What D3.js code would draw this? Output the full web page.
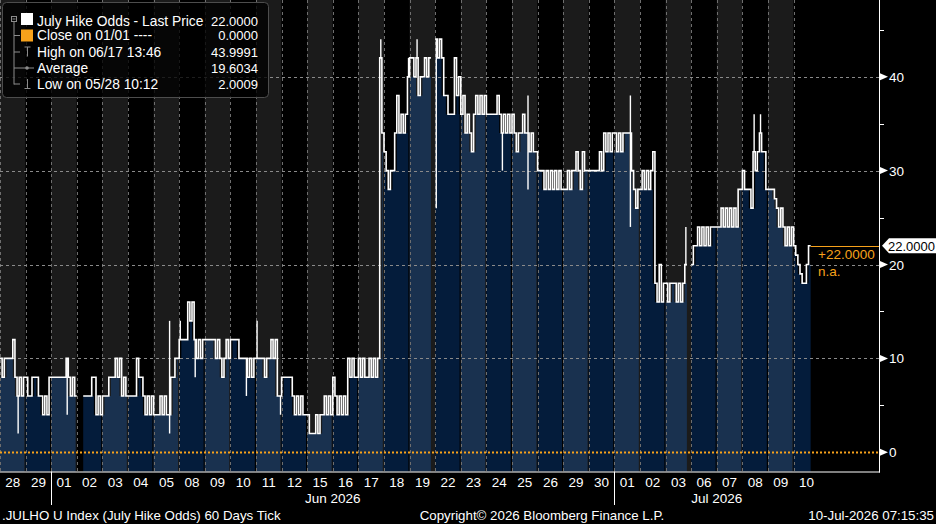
<!DOCTYPE html>
<html>
<head>
<meta charset="utf-8">
<script src="https://cdn.jsdelivr.net/npm/d3@7"></script>
<style>
  html, body { margin: 0; padding: 0; background: #000; }
  svg { display: block; font-family: 'Liberation Sans', Arial, sans-serif; }
</style>
</head>
<body>
<svg id="chart" width="936" height="524"></svg>
<script>
// one label per trading day on the bottom axis
const dayLabels = ['28', '29', '01', '02', '03', '04', '05', '08', '09', '10', '11', '12', '15', '16', '17', '18',
                   '19', '22', '23', '24', '25', '26', '29', '30', '01', '02', '03', '06', '07', '08', '09', '10'];
const monthLabels = ['Jun 2026', 'Jul 2026'];
const monthStarts = [2, 24];
const monthEnds = [24, 32];

// intraday ticks, 12 per day (null = no trading)
const dayTicks = [
  [10, 8, 10, 10, 10, 10, 12, 8, 6, 8, 6, 8],          // 28 May
  [8, 6, 6, 8, 8, 8, 6, 6, 4, 6, 4, 8],                // 29 May
  [8, 8, 8, 8, 8, 8, 8, 10, 8, 6, 8, 6],               // 01 Jun
  [null, null, null, 6, 6, 6, 6, 8, 8, 4, 6, 4],       // 02 Jun
  [6, 6, 6, 8, 8, 8, 10, 8, 10, 6, 8, 6],              // 03 Jun
  [6, 6, 6, 6, 10, 8, 8, 6, 4, 6, 4, 6],               // 04 Jun
  [4, 4, 4, 6, 4, 6, 4, 4, 8, 8, 10, 10],              // 05 Jun
  [12, 12, 12, 12, 16, 14, 16, 12, 10, 12, 10, 12],    // 08 Jun
  [12, 12, 12, 12, 12, 10, 12, 10, 8, 10, 12, 10],     // 09 Jun
  [12, 12, 12, 12, 10, 10, 10, 10, 8, 10, 8, 10],      // 10 Jun
  [10, 10, 10, 10, 8, 10, 10, 12, 10, 12, 6, 6],       // 11 Jun
  [8, 8, 8, 8, 8, 6, 4, 6, 4, 6, 4, 4],                // 12 Jun
  [4, 2, 2, 2, 4, 2, 4, 4, 6, 4, 6, 4],                // 15 Jun
  [8, 6, 4, 6, 4, 6, 4, 10, 8, 10, 8, 8],              // 16 Jun
  [10, 8, 10, 8, 8, 10, 8, 10, 8, 10, 42, 34],         // 17 Jun
  [32, 30, 28, 30, 30, 34, 38, 34, 36, 34, 36, 40],    // 18 Jun
  [42, 42, 40, 42, 38, 40, 40, 42, 40, 42, null, null],// 19 Jun
  [44, 42, 44, 42, 38, 38, 36, 36, 36, 42, 38, 40],    // 22 Jun
  [36, 38, 34, 36, 34, 32, 36, 38, 36, 38, 36, 38],    // 23 Jun
  [36, 36, 36, 36, 36, 38, 36, 34, 36, 34, 36, 34],    // 24 Jun
  [36, 34, 32, 34, 34, 36, 34, 34, 32, 34, 32, 32],    // 25 Jun
  [30, 30, 30, 28, 30, 28, 30, 28, 30, 28, 30, 28],    // 26 Jun
  [28, 28, 30, 28, 30, 30, 32, 30, 28, 32, 30, 30],    // 29 Jun
  [30, 30, 30, 30, 30, 32, 30, 34, 32, 34, 32, 34],    // 30 Jun
  [34, 32, 34, 32, 34, 34, 34, 34, 30, 28, 26, 28],    // 01 Jul
  [28, 30, 28, 30, 28, 30, 32, 18, 16, 20, 16, 18],    // 02 Jul
  [18, 16, 18, 18, 18, 16, 18, 16, 18, 20, null, null],// 03 Jul
  [20, 22, 22, 24, 22, 24, 22, 24, 22, 24, 24, 24],    // 06 Jul
  [24, 24, 26, 24, 26, 24, 26, 24, 26, 24, 28, 28],    // 07 Jul
  [30, 28, 28, 28, 26, 32, 30, 32, 34, 32, 32, 28],    // 08 Jul
  [28, 28, 28, 27, 26, 24, 26, 24, 22, 24, 22, 24],    // 09 Jul
  [22, 21, 20, 19, 18, 18, 20, 22, null, null, null, null] // 10 Jul
];

// single-tick spikes: [day, tick, value]
const spikes = [
  [0, 8, 2], [2, 7, 4], [6, 7, 2], [6, 7, 14], [7, 0, 14], [7, 7, 8], [9, 7, 6],
  [10, 0, 14], [10, 11, 4], [14, 10, 44], [15, 11, 42], [16, 3, 44], [17, 0, 26],
  [19, 7, 30], [20, 7, 38], [20, 7, 28], [24, 7, 38], [24, 7, 24], [26, 9, 24],
  [29, 5, 36], [29, 8, 36]
];

const yTicks = [0, 10, 20, 30, 40];
const yMinorTicks = [5, 15, 25, 35, 45];
const lastPrice = 22;
const closeValue = 0;

const legendLabels = ['July Hike Odds - Last Price', 'Close on 01/01 ----', 'High on 06/17 13:46', 'Average', 'Low on 05/28 10:12'];
const legendValues = ['22.0000', '0.0000', '43.9991', '19.6034', '2.0009'];

const perDay = 12;
const step = 1 / perDay;
const plotRight = 880;
const plotBottom = 471.5;
const orange = '#f7a21b';

const svg = d3.select('#chart');

const x = d3.scaleLinear()
            .domain([0, dayLabels.length])
            .range([0, 819.2]);
const y = d3.scaleLinear()
            .domain([0, 40])
            .range([452.3, 76.7]);

// flatten ticks
const samples = [];
dayTicks.forEach((ticks, d) => {
  ticks.forEach((v, k) => samples.push({ t: d + k * step, v: v, d: d }));
});

// area level: lowest of a tick and its neighbours, so flickers stay unfilled
samples.forEach((s, i) => {
  if (s.v === null) { s.f = null; return; }
  const near = [samples[i - 1], s, samples[i + 1]]
    .filter(n => n && n.v !== null)
    .map(n => n.v);
  s.f = d3.min(near);
});

// background day bands
svg.append('g')
  .selectAll('rect')
  .data(dayLabels)
  .join('rect')
    .attr('x', (d, i) => x(i))
    .attr('y', 0)
    .attr('width', (d, i) => x(i + 1) - x(i))
    .attr('height', plotBottom)
    .attr('fill', (d, i) => i % 2 === 0 ? '#1b1b1b' : '#000');

// filled area, one block per day
const area = d3.area()
               .defined(p => p.v !== null)
               .x(p => x(p.t))
               .y0(plotBottom)
               .y1(p => y(p.v))
               .curve(d3.curveStepAfter);

const fillGroup = svg.append('g');
dayTicks.forEach((ticks, d) => {
  const own = samples.filter(s => s.d === d);
  const pts = [];
  own.forEach((s, k) => {
    pts.push({ t: s.t, v: s.f });
    const nx = own[k + 1];
    if (s.f !== null && (!nx || nx.f === null)) {
      const end = nx ? s.t + step : d + 1 - 1.2 / 25.6;
      pts.push({ t: end, v: s.f });
    }
  });
  fillGroup.append('path')
    .attr('d', area(pts))
    .attr('fill', d % 2 === 0 ? '#19314f' : '#041c3b');
});

// vertical day separators
svg.append('g')
  .selectAll('line')
  .data(dayLabels)
  .join('line')
    .attr('x1', (d, i) => Math.round(x(i)) + 0.5)
    .attr('x2', (d, i) => Math.round(x(i)) + 0.5)
    .attr('y1', 0)
    .attr('y2', plotBottom)
    .attr('stroke', '#6e6e6e')
    .attr('stroke-dasharray', '3,3');

// horizontal grid
svg.append('g')
  .selectAll('line')
  .data(yTicks.filter(v => v !== 0))
  .join('line')
    .attr('x1', 0)
    .attr('x2', plotRight)
    .attr('y1', v => Math.round(y(v)) + 0.5)
    .attr('y2', v => Math.round(y(v)) + 0.5)
    .attr('stroke', '#8a8a8a')
    .attr('stroke-dasharray', '3,3');

// close line at zero
svg.append('line')
   .attr('x1', 0)
   .attr('x2', plotRight)
   .attr('y1', Math.round(y(closeValue)) + 0.5)
   .attr('y2', Math.round(y(closeValue)) + 0.5)
   .attr('stroke', orange)
   .attr('stroke-width', 2)
   .attr('stroke-dasharray', '2,2');

// price line
const linePts = [];
samples.forEach((s, i) => {
  linePts.push({ t: s.t, v: s.v });
  const nx = samples[i + 1];
  if (s.v !== null && (!nx || nx.v === null)) linePts.push({ t: s.t + step, v: s.v });
});

const line = d3.line()
               .defined(p => p.v !== null)
               .x(p => x(p.t))
               .y(p => y(p.v))
               .curve(d3.curveStepAfter);

svg.append('path')
   .datum(linePts)
   .attr('d', line)
   .attr('fill', 'none')
   .attr('stroke', '#fff')
   .attr('stroke-width', 1.6);

svg.append('g')
  .selectAll('line')
  .data(spikes)
  .join('line')
    .attr('x1', s => x(s[0] + (s[1] + 0.5) * step))
    .attr('x2', s => x(s[0] + (s[1] + 0.5) * step))
    .attr('y1', s => y(dayTicks[s[0]][s[1]]))
    .attr('y2', s => y(s[2]))
    .attr('stroke', '#fff')
    .attr('stroke-width', 1.4);

// last price marker
const lastT = d3.max(linePts.filter(p => p.v !== null), p => p.t);
svg.append('line')
   .attr('x1', x(lastT))
   .attr('x2', plotRight)
   .attr('y1', Math.round(y(lastPrice)) + 0.5)
   .attr('y2', Math.round(y(lastPrice)) + 0.5)
   .attr('stroke', orange)
   .attr('stroke-width', 1);

svg.append('text')
   .attr('x', 818)
   .attr('y', y(lastPrice) + 13)
   .attr('font-size', '13.5px')
   .attr('fill', orange)
   .text('+' + legendValues[0]);
svg.append('text')
   .attr('x', 818)
   .attr('y', y(lastPrice) + 30)
   .attr('font-size', '13.5px')
   .attr('fill', orange)
   .text('n.a.');

// right axis
const yAxis = svg.append('g');
yAxis.append('line')
     .attr('x1', plotRight - 0.5)
     .attr('x2', plotRight - 0.5)
     .attr('y1', 0)
     .attr('y2', plotBottom + 1)
     .attr('stroke', '#fff');

yAxis.selectAll('.minor')
  .data(yMinorTicks)
  .join('line')
    .attr('class', 'minor')
    .attr('x1', plotRight)
    .attr('x2', plotRight + 4)
    .attr('y1', v => Math.round(y(v)) + 0.5)
    .attr('y2', v => Math.round(y(v)) + 0.5)
    .attr('stroke', '#fff');

yAxis.selectAll('.pointer')
  .data(yTicks)
  .join('path')
    .attr('class', 'pointer')
    .attr('d', v => `M${plotRight},${y(v) - 3.5}L${plotRight + 8},${y(v)}L${plotRight},${y(v) + 3.5}Z`)
    .attr('fill', '#fff');

yAxis.selectAll('text')
  .data(yTicks)
  .join('text')
    .attr('x', plotRight + 9)
    .attr('y', v => y(v) + 5)
    .attr('font-size', '13.5px')
    .attr('fill', '#fff')
    .text(v => v);

const ly = y(lastPrice);
svg.append('path')
   .attr('d', `M882,${ly}L889,${ly - 7.5}L936,${ly - 7.5}L936,${ly + 7.5}L889,${ly + 7.5}Z`)
   .attr('fill', '#fff');
svg.append('text')
   .attr('x', 888)
   .attr('y', ly + 5)
   .attr('font-size', '13px')
   .attr('fill', '#000')
   .text(legendValues[0]);

// bottom axis
const xAxis = svg.append('g');
xAxis.append('line')
     .attr('x1', 0)
     .attr('x2', plotRight)
     .attr('y1', plotBottom + 0.5)
     .attr('y2', plotBottom + 0.5)
     .attr('stroke', '#fff');

xAxis.selectAll('.day')
  .data(dayLabels)
  .join('text')
    .attr('class', 'day')
    .attr('x', (d, i) => x(i + 0.5))
    .attr('y', 487)
    .attr('text-anchor', 'middle')
    .attr('font-size', '13.5px')
    .attr('fill', '#fff')
    .text(d => d);

xAxis.selectAll('.sep')
  .data(monthStarts)
  .join('line')
    .attr('class', 'sep')
    .attr('x1', m => Math.round(x(m)) + 0.5)
    .attr('x2', m => Math.round(x(m)) + 0.5)
    .attr('y1', plotBottom)
    .attr('y2', 505)
    .attr('stroke', '#fff');

xAxis.selectAll('.month')
  .data(monthLabels)
  .join('text')
    .attr('class', 'month')
    .attr('x', (m, i) => x((monthStarts[i] + monthEnds[i]) / 2))
    .attr('y', 503)
    .attr('text-anchor', 'middle')
    .attr('font-size', '13.5px')
    .attr('fill', '#fff')
    .text(m => m);

// footer
svg.append('text')
   .attr('x', 2).attr('y', 520)
   .attr('font-size', '13.3px').attr('fill', '#fff')
   .text('.JULHO U Index (July Hike Odds) 60 Days Tick');
svg.append('text')
   .attr('x', 542).attr('y', 520)
   .attr('text-anchor', 'middle')
   .attr('font-size', '13.3px').attr('fill', '#fff')
   .text('Copyright\u00a9 2026 Bloomberg Finance L.P.');
svg.append('text')
   .attr('x', 934).attr('y', 520)
   .attr('text-anchor', 'end')
   .attr('font-size', '13.3px').attr('fill', '#fff')
   .text('10-Jul-2026 07:15:35');

// legend
const legend = svg.append('g');
legend.append('rect')
      .attr('x', 2.5).attr('y', 2.5)
      .attr('width', 266).attr('height', 95)
      .attr('rx', 4)
      .attr('fill', 'rgba(0,0,0,0.78)')
      .attr('stroke', '#4d4d4d');

const rowY = [25.5, 40, 56.5, 72.5, 88.5];
const treeColor = '#8c8c8c';

legend.append('rect')
      .attr('x', 11.5).attr('y', 16.5)
      .attr('width', 5).attr('height', 5)
      .attr('fill', 'none').attr('stroke', treeColor);
legend.append('line')
      .attr('x1', 12.5).attr('x2', 15.5).attr('y1', 19).attr('y2', 19)
      .attr('stroke', treeColor);
legend.append('line')
      .attr('x1', 14).attr('x2', 14).attr('y1', 22).attr('y2', rowY[4] - 4)
      .attr('stroke', treeColor);
legend.selectAll('.branch')
  .data(rowY.slice(1))
  .join('line')
    .attr('class', 'branch')
    .attr('x1', 14).attr('x2', 20)
    .attr('y1', r => r - 4.5).attr('y2', r => r - 4.5)
    .attr('stroke', treeColor);

legend.append('rect')
      .attr('x', 21).attr('y', 13).attr('width', 12).attr('height', 12)
      .attr('fill', '#fff');
legend.append('rect')
      .attr('x', 21).attr('y', 29.5).attr('width', 12).attr('height', 12)
      .attr('fill', orange);

// high / average / low glyphs
legend.append('path')
      .attr('d', `M24.5,${rowY[2] - 9.5}H30.5M27.5,${rowY[2] - 9.5}V${rowY[2]}`)
      .attr('stroke', treeColor).attr('fill', 'none');
legend.append('path')
      .attr('d', `M20,${rowY[3] - 4.5}H34`)
      .attr('stroke', treeColor).attr('fill', 'none');
legend.append('circle')
      .attr('cx', 27).attr('cy', rowY[3] - 4.5).attr('r', 1.8)
      .attr('fill', treeColor);
legend.append('path')
      .attr('d', `M27.5,${rowY[4] - 9.5}V${rowY[4]}M24.5,${rowY[4]}H30.5`)
      .attr('stroke', treeColor).attr('fill', 'none');

legend.selectAll('.lbl')
  .data(legendLabels)
  .join('text')
    .attr('class', 'lbl')
    .attr('x', 37)
    .attr('y', (d, i) => rowY[i])
    .attr('font-size', '13.8px')
    .attr('fill', '#fff')
    .text(d => d);

legend.selectAll('.val')
  .data(legendValues)
  .join('text')
    .attr('class', 'val')
    .attr('x', 258)
    .attr('y', (d, i) => rowY[i])
    .attr('text-anchor', 'end')
    .attr('font-size', '13px')
    .attr('fill', '#fff')
    .text(d => d);
</script>
</body>
</html>
